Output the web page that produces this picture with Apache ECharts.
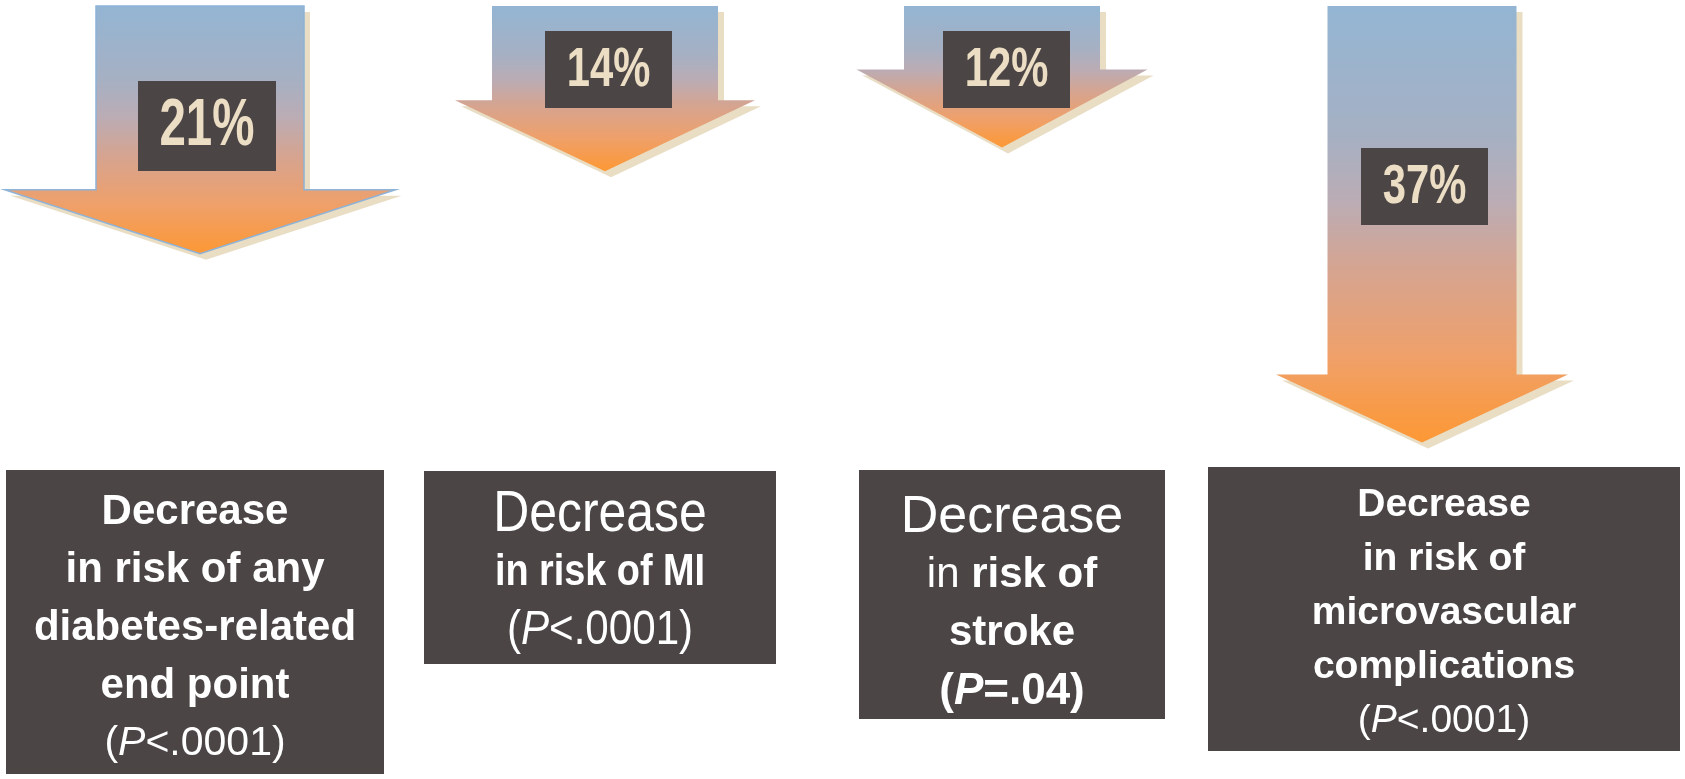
<!DOCTYPE html>
<html>
<head>
<meta charset="utf-8">
<script src="https://cdn.jsdelivr.net/npm/echarts@6/dist/echarts.min.js"></script>
<style>
  html, body { margin: 0; padding: 0; background: #ffffff; }
  #chart { width: 1685px; height: 779px; }
</style>
</head>
<body>
<div id="chart"></div>
<script>
// Outcomes and relative risk reductions (%)
const outcomes = ['Any diabetes-related end point', 'MI', 'Stroke', 'Microvascular complications'];
const riskReduction = [21, 14, 12, 37];
const pValues = ['<.0001', '<.0001', '=.04', '<.0001'];

// Panel captions (rich-text tagged lines)
const panelText = [
  '{b|Decrease}\n{b|in risk of any}\n{b|diabetes-related}\n{b|end point}\n{n|(}{i|P}{n|' + pValues[0] + ')}',
  '{d|Decrease}\n{b|in risk of MI}\n{n|(}{i|P}{n|' + pValues[1] + ')}',
  '{d|Decrease}\n{n|in }{b|risk of}\n{b|stroke}\n{bb|(}{bi|P}{bb|' + pValues[2] + ')}',
  '{b|Decrease}\n{b|in risk of}\n{b|microvascular}\n{b|complications}\n{n|(}{i|P}{n|' + pValues[3] + ')}'
];

// Arrow geometry (px) relative to each category centre
const arrowShape = [
  { dx: -2.5, shaft: 208, head: 391, headH: 64, labelW: 138, labelH: 90, labelDx: 7, labelAt: 120, fontSize: 66, squeeze: 0.72, outline: true },
  { dx: -2.5, shaft: 226, head: 300, headH: 71, labelW: 127, labelH: 77, labelDx: 3.5, labelAt: 63.5, fontSize: 55, squeeze: 0.76, outline: false },
  { dx: -10.5, shaft: 196, head: 291, headH: 78, labelW: 127, labelH: 77, labelDx: 4.5, labelAt: 63.5, fontSize: 55, squeeze: 0.76, outline: false },
  { dx: 4.5, shaft: 189, head: 292, headH: 68, labelW: 127, labelH: 77, labelDx: 2.5, labelAt: 180.5, fontSize: 55, squeeze: 0.76, outline: false }
];

// Caption panels below the arrows
const panelShape = [
  { dx: -7.5, w: 378, top: 470, h: 304, textDy: 6 },
  { dx: -7.5, w: 352, top: 471, h: 193, textDy: 5 },
  { dx: -0.5, w: 306, top: 470, h: 249, textDy: 10 },
  { dx: 26.5, w: 472, top: 467, h: 284, textDy: 4 }
];

const FONT = '"Liberation Sans", Arial, Helvetica, sans-serif';
function rs(size, weight, style, lh) {
  return { fontFamily: FONT, fontSize: size, fontWeight: weight, fontStyle: style || 'normal', lineHeight: lh, fill: '#ffffff' };
}
const panelStyles = [
  { scaleX: 1, rich: { b: rs(42, 'bold', 'normal', 58), n: rs(41, 'normal', 'normal', 58), i: rs(41, 'normal', 'italic', 58) } },
  { scaleX: 0.86, rich: { d: rs(58, 'normal', 'normal', 58), b: rs(44, 'bold', 'normal', 58), n: rs(49, 'normal', 'normal', 58), i: rs(49, 'normal', 'italic', 58) } },
  { scaleX: 1, rich: { d: rs(52, 'normal', 'normal', 58), n: rs(42, 'normal', 'normal', 58), b: rs(42, 'bold', 'normal', 58), bb: rs(44, 'bold', 'normal', 58), bi: rs(44, 'bold', 'italic', 58) } },
  { scaleX: 1, rich: { b: rs(39, 'bold', 'normal', 54), n: rs(39, 'normal', 'normal', 54), i: rs(39, 'normal', 'italic', 54) } }
];

const arrowFill = {
  type: 'linear', x: 0, y: 0, x2: 0, y2: 1,
  colorStops: [
    { offset: 0, color: '#93b5d3' },
    { offset: 0.3, color: '#a6b0c3' },
    { offset: 0.45, color: '#bbacb4' },
    { offset: 0.6, color: '#d5a491' },
    { offset: 0.8, color: '#efa06a' },
    { offset: 1, color: '#fd9834' }
  ]
};

function renderArrow(params, api) {
  const i = params.dataIndex;
  const v = api.value(1);
  const s = arrowShape[i];
  const p = panelShape[i];
  const top = api.coord([i, 0]);
  const tip = api.coord([i, v]);
  const cx = top[0] + s.dx;
  const y0 = top[1];
  const y1 = tip[1];
  const yh = y1 - s.headH;
  const pts = [
    [cx - s.shaft / 2, y0], [cx + s.shaft / 2, y0], [cx + s.shaft / 2, yh],
    [cx + s.head / 2, yh], [cx, y1], [cx - s.head / 2, yh], [cx - s.shaft / 2, yh]
  ];
  const shadowPts = pts.map(q => [q[0] + 6, q[1] + 6]);
  const lx = cx + s.labelDx;
  const ly = y0 + s.labelAt;
  const pcx = top[0] + p.dx;
  const st = panelStyles[i];
  return {
    type: 'group',
    children: [
      { type: 'polygon', shape: { points: shadowPts }, style: { fill: '#e9ddc4' } },
      {
        type: 'polygon', shape: { points: pts },
        style: { fill: arrowFill, stroke: s.outline ? '#8db3d8' : null, lineWidth: s.outline ? 1.5 : 0 }
      },
      {
        type: 'rect',
        shape: { x: lx - s.labelW / 2, y: ly - s.labelH / 2, width: s.labelW, height: s.labelH },
        style: { fill: '#4b4545' }
      },
      {
        type: 'text', x: lx, y: ly + 1, scaleX: s.squeeze,
        style: {
          text: v + '%', align: 'center', verticalAlign: 'middle',
          fontFamily: FONT, fontWeight: 'bold', fontSize: s.fontSize, fill: '#ecdec4'
        }
      },
      {
        type: 'rect',
        shape: { x: pcx - p.w / 2, y: p.top, width: p.w, height: p.h },
        style: { fill: '#4b4545' }
      },
      {
        type: 'text', x: pcx, y: p.top + p.h / 2 + p.textDy, scaleX: st.scaleX,
        style: {
          text: panelText[i], rich: st.rich, align: 'center', verticalAlign: 'middle',
          fontFamily: FONT, fill: '#ffffff'
        }
      }
    ]
  };
}

const chart = echarts.init(document.getElementById('chart'), null, { renderer: 'canvas' });
chart.setOption({
  backgroundColor: '#ffffff',
  animation: false,
  grid: { left: 0, width: 1620, top: 6, height: 472 },
  xAxis: { type: 'category', data: outcomes, show: false },
  yAxis: { type: 'value', min: 0, max: 40, inverse: true, show: false },
  series: [{
    type: 'custom',
    clip: false,
    renderItem: renderArrow,
    data: riskReduction.map((v, i) => [i, v])
  }]
});
</script>
</body>
</html>
